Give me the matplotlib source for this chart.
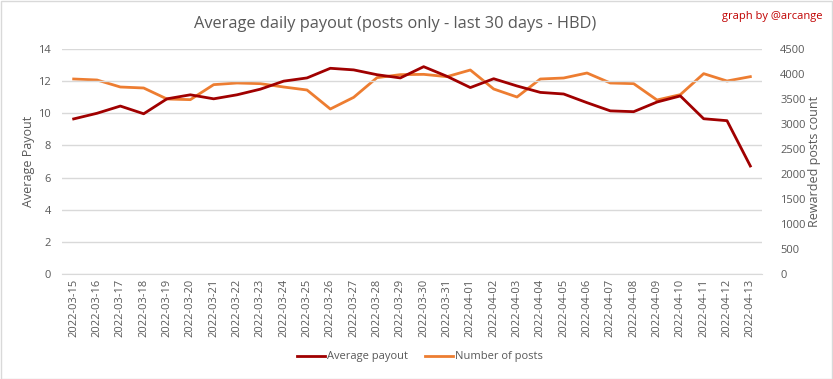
import matplotlib
matplotlib.use("Agg")
import matplotlib.pyplot as plt
import pandas as pd

plt.rcParams['font.family'] = ['Open Sans', 'DejaVu Sans']

dates = pd.date_range("2022-03-15", "2022-04-13").strftime("%Y-%m-%d").tolist()

avg_payout = [9.65, 10.0, 10.45, 9.97, 10.9, 11.15, 10.9, 11.15, 11.5, 12.0,
              12.2, 12.8, 12.7, 12.4, 12.2, 12.9, 12.3, 11.6, 12.15, 11.7,
              11.3, 11.2, 10.66, 10.15, 10.1, 10.7, 11.08, 9.66, 9.54, 6.72]

num_posts = [3900, 3880, 3740, 3720, 3500, 3487, 3787, 3820, 3807, 3740,
             3680, 3300, 3533, 3927, 3987, 3993, 3947, 4080, 3700, 3540,
             3900, 3920, 4020, 3820, 3807, 3480, 3587, 4007, 3860, 3947]

grey = "#595959"
red = "#A00000"
orange = "#ED7D31"

fig = plt.figure(figsize=(8.33, 3.79), dpi=100)
ax = fig.add_axes([62/833, 1 - 274/379, 700/833, 225/379])
ax2 = ax.twinx()

x = range(len(dates))
l1, = ax.plot(x, avg_payout, color=red, lw=2, label="Average payout")
l2, = ax2.plot(x, num_posts, color=orange, lw=2, label="Number of posts")
ax.set_zorder(ax2.get_zorder() + 1)
ax.patch.set_visible(False)

ax.set_ylim(0, 14)
ax.set_yticks(range(0, 15, 2))
ax2.set_ylim(0, 4500)
ax2.set_yticks(range(0, 4501, 500))
ax.set_xlim(-0.5, len(dates) - 0.5)
ax.set_xticks(list(x))
ax.set_xticklabels(dates, rotation=90, fontsize=8, color=grey)

ax.grid(axis="y", color="#D9D9D9", lw=1)
for a in (ax, ax2):
    for s in a.spines.values():
        s.set_visible(False)
    a.tick_params(length=0, labelsize=8, colors=grey)
ax.tick_params(axis="y", pad=8)
ax2.tick_params(axis="y", pad=13)
ax.spines["bottom"].set_visible(True)
ax.spines["bottom"].set_color("#D9D9D9")

ax.set_ylabel("Average Payout", color=grey, fontsize=9, labelpad=2)
ax2.set_ylabel("Rewarded posts count", color=grey, fontsize=9, labelpad=2)

fig.text(395/833, 1 - 24/379, "Average daily payout (posts only - last 30 days - HBD)",
         ha="center", va="center", fontsize=11.8, color=grey)
fig.text(822/833, 1 - 17/379, "graph by @arcange", ha="right", va="center",
         fontsize=8, color="#C00000")

fig.legend(handles=[l1, l2], loc="center", bbox_to_anchor=(420/833, 1 - 357/379),
           ncol=2, frameon=False, fontsize=8, labelcolor=grey,
           handlelength=2.5, handletextpad=0.2, columnspacing=1.5)

border = plt.Rectangle((0.001, 0.001), 0.998, 0.997, transform=fig.transFigure,
                       fill=False, edgecolor="#D9D9D9", lw=1)
fig.patches.append(border)

fig.savefig("out.png", dpi=100)
